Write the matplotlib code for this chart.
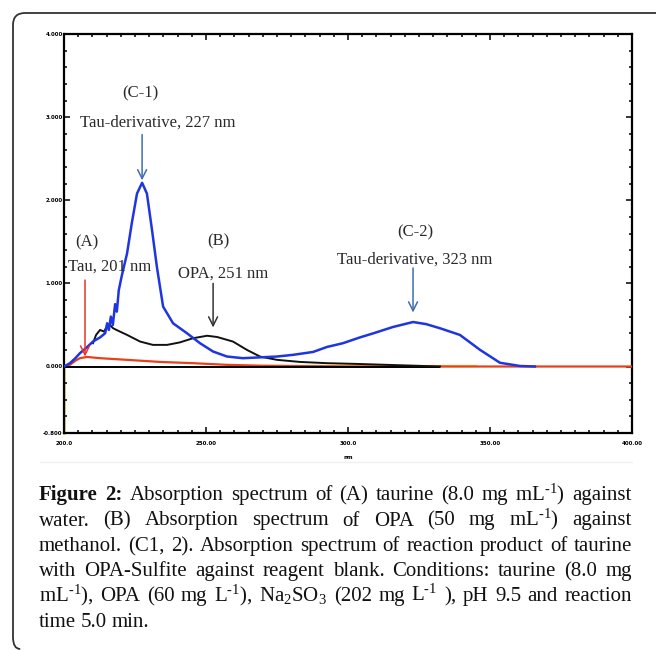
import matplotlib
matplotlib.use('Agg')
import matplotlib.pyplot as plt
from matplotlib.path import Path
from matplotlib.patches import PathPatch
from matplotlib.ticker import MultipleLocator

# ---------------- data ----------------
# (C) Tau-derivative spectrum (blue)
c_wl = [200.0, 202.1, 204.0, 205.6, 207.7, 210.2, 212.7, 214.5, 215.2, 215.8,
        216.5, 217.2, 218.0, 218.6, 219.3, 220.4, 222.2, 223.9, 225.7, 227.5,
        229.2, 231.0, 232.7, 234.9, 238.4, 243.3, 247.9, 252.5, 257.4, 263.0,
        269.0, 275.0, 280.6, 287.7, 292.6, 298.2, 304.2, 309.0, 315.8, 322.9,
        327.5, 332.4, 339.4, 346.5, 353.5, 360.6, 365.8]
c_abs = [0.00, 0.04, 0.10, 0.16, 0.22, 0.30, 0.35, 0.40, 0.52, 0.44,
         0.60, 0.50, 0.75, 0.66, 0.92, 1.10, 1.36, 1.73, 2.08, 2.21,
         2.08, 1.64, 1.20, 0.72, 0.52, 0.40, 0.28, 0.18, 0.12, 0.10,
         0.11, 0.12, 0.14, 0.175, 0.235, 0.28, 0.35, 0.40, 0.475, 0.535,
         0.51, 0.46, 0.38, 0.20, 0.045, 0.006, 0.0]

# (B) OPA spectrum (black)
b_wl = [210.2, 211.3, 212.7, 214.1, 215.1, 216.2, 217.3, 219.7, 222.2, 226.8,
        231.3, 236.3, 240.8, 245.4, 250.4, 253.9, 259.5, 264.4, 269.0, 275.0,
        283.1, 292.6, 304.2, 318.3, 332.4]
b_abs = [0.28, 0.38, 0.44, 0.42, 0.48, 0.50, 0.46, 0.42, 0.38, 0.30,
         0.26, 0.26, 0.29, 0.34, 0.37, 0.355, 0.30, 0.20, 0.12, 0.08,
         0.055, 0.04, 0.03, 0.015, 0.0]

# (A) Taurine spectrum (red)
a_wl = [200.0, 202.1, 204.0, 205.6, 208.1, 212.7, 222.2, 233.8, 245.4, 257.4,
        269.0, 283.1, 300.0, 400.0]
a_abs = [0.0, 0.02, 0.07, 0.10, 0.115, 0.10, 0.08, 0.055, 0.04, 0.02,
         0.01, 0.005, 0.0, 0.0]

# baseline segments
base_wl = [200.0, 332.0]
base_abs = [0.0, 0.0]
yellow_wl = [282.0, 345.0]
yellow_abs = [0.006, 0.006]

x_ticks = [200, 250, 300, 350, 400]
x_ticklabels = ['200.0', '250.00', '300.0', '350.00', '400.00']
y_ticks = [4, 3, 2, 1, 0, -0.8]
y_ticklabels = ['4.000', '3.000', '2.000', '1.000', '0.000', '-0.800']

labels = [
    ('(C-1)', 226.8, 3.29),
    ('Tau-derivative, 227 nm', 233.1, 2.93),
    ('(A)', 208.1, 1.49),
    ('Tau, 201 nm', 216.2, 1.20),
    ('(B)', 254.2, 1.50),
    ('OPA, 251 nm', 256.0, 1.12),
    ('(C-2)', 323.6, 1.61),
    ('Tau-derivative, 323 nm', 323.6, 1.28),
]
arrows = [  # x, y_start, y_end, color
    (227.5, 2.79, 2.24, '#3d6eb4'),
    (207.4, 1.04, 0.12, '#e8342a'),
    (252.5, 1.00, 0.47, '#333333'),
    (322.9, 1.185, 0.65, '#3d6eb4'),
]

SUP = r"$^{\text{-}1}$"
caption = [
    "Figure 2: Absorption spectrum of (A) taurine (8.0 mg mL" + SUP + ") against",
    "water. (B) Absorption spectrum of OPA (50 mg mL" + SUP + ") against",
    "methanol. (C1, 2). Absorption spectrum of reaction product of taurine",
    "with OPA-Sulfite against reagent blank. Conditions: taurine (8.0 mg",
    "mL" + SUP + "), OPA (60 mg L" + SUP + "), Na$_2$SO$_3$ (202 mg L" + SUP
    + " ), pH 9.5 and reaction",
    "time 5.0 min.",
]

# ---------------- figure ----------------
plt.rcParams['mathtext.fontset'] = 'custom'
plt.rcParams['mathtext.rm'] = 'Liberation Serif'
plt.rcParams['mathtext.it'] = 'Liberation Serif:italic'
plt.rcParams['mathtext.bf'] = 'Liberation Serif:bold'

W, H = 656, 650
fig = plt.figure(figsize=(W / 100, H / 100), dpi=100)


def fx(px):
    return px / W


def fy(py):
    return 1 - py / H


ax = fig.add_axes([fx(64), fy(433), fx(632) - fx(64), fy(34) - fy(433)])
ax.set_xlim(200, 400)
ax.set_ylim(-0.8, 4.0)

ax.plot([200, 200], [-0.8, 0], color='#e8e020', lw=2.0, zorder=1, clip_on=False)
ax.plot(yellow_wl, yellow_abs, color='#e8d820', lw=1.6, zorder=2)
ax.plot(a_wl, a_abs, color='#e8401c', lw=1.6, zorder=3)
ax.plot(base_wl, base_abs, color='black', lw=1.4, zorder=3)
ax.plot(b_wl, b_abs, color='#111111', lw=1.4, zorder=4)
ax.plot(c_wl, c_abs, color='#1f35e0', lw=1.8, zorder=5)

for s in ax.spines.values():
    s.set_linewidth(1.6)
    s.set_color('black')

ax.set_xticks(x_ticks)
ax.set_xticklabels(x_ticklabels)
ax.set_yticks(y_ticks)
ax.set_yticklabels(y_ticklabels)
ax.xaxis.set_minor_locator(MultipleLocator(5))
ax.yaxis.set_minor_locator(MultipleLocator(0.2))
ax.tick_params(which='both', direction='in', top=True, right=True, width=1.1)
ax.tick_params(which='major', length=4)
ax.tick_params(which='minor', length=2)
ax.tick_params(axis='x', which='major', pad=6)
ax.tick_params(axis='y', which='major', pad=1)
for t in ax.get_xticklabels() + ax.get_yticklabels():
    t.set_fontsize(4)
    t.set_fontweight('bold')
ax.set_xlabel('nm', fontsize=4, fontweight='bold', labelpad=6)

for txt, x, y in labels:
    ax.text(x, y, txt, ha='center', va='center', fontsize=12,
            family='Liberation Serif', color='#2a2a2a', zorder=6)
for x, y0, y1, col in arrows:
    ax.annotate('', xy=(x, y1), xytext=(x, y0),
                arrowprops=dict(arrowstyle='->', color=col, lw=1.1,
                                mutation_scale=16, shrinkA=0, shrinkB=0),
                zorder=6)

# ---------------- border ----------------
r = 12
x0, y0, yb = 13, 13, 649
verts = [(W, y0), (x0 + r, y0), (x0, y0), (x0, y0 + r), (x0, yb - r),
         (x0, yb), (x0 + r * 0.6, yb)]
codes = [Path.MOVETO, Path.LINETO, Path.CURVE3, Path.CURVE3, Path.LINETO,
         Path.CURVE3, Path.CURVE3]
verts = [(fx(a), fy(b)) for a, b in verts]
fig.patches.append(PathPatch(Path(verts, codes), transform=fig.transFigure,
                             fill=False, lw=1.3, edgecolor='#333333'))

# faint strip under chart image
fig.add_artist(plt.Line2D([fx(40), fx(632)], [fy(462), fy(462)],
                          transform=fig.transFigure, color='#f0f0f0', lw=1))

# ---------------- caption (justified) ----------------
fig.canvas.draw()
renderer = fig.canvas.get_renderer()
left, right = 39, 632
baselines = [500, 525.5, 551, 576, 601, 627]


def make_words(line, fs, first):
    toks = line.split(' ')
    out = []
    for i, w in enumerate(toks):
        bold = first and i < 2
        t = fig.text(0, 0, w, fontsize=fs, family='Liberation Serif',
                     weight='bold' if bold else 'normal', va='baseline',
                     ha='left', color='#111111')
        out.append(t)
    return out


def widths_of(texts):
    return [t.get_window_extent(renderer).width for t in texts]


fs = 15.0
space_frac = 0.22
for _ in range(3):
    maxw = 0
    for i, line in enumerate(caption):
        ts = make_words(line, fs, i == 0)
        w = sum(widths_of(ts)) + space_frac * fs * 100 / 72 * (len(ts) - 1)
        maxw = max(maxw, w)
        for t in ts:
            t.remove()
    if maxw > (right - left):
        fs = fs * (right - left) / maxw * 0.995
    else:
        break

for i, line in enumerate(caption):
    ts = make_words(line, fs, i == 0)
    ws = widths_of(ts)
    if i < len(caption) - 1 and len(ts) > 1:
        gap = (right - left - sum(ws)) / (len(ts) - 1)
    else:
        gap = space_frac * fs * 100 / 72
    x = left
    for t, w in zip(ts, ws):
        t.set_position((fx(x), fy(baselines[i])))
        x += w + gap

fig.savefig('out.png', dpi=100)
